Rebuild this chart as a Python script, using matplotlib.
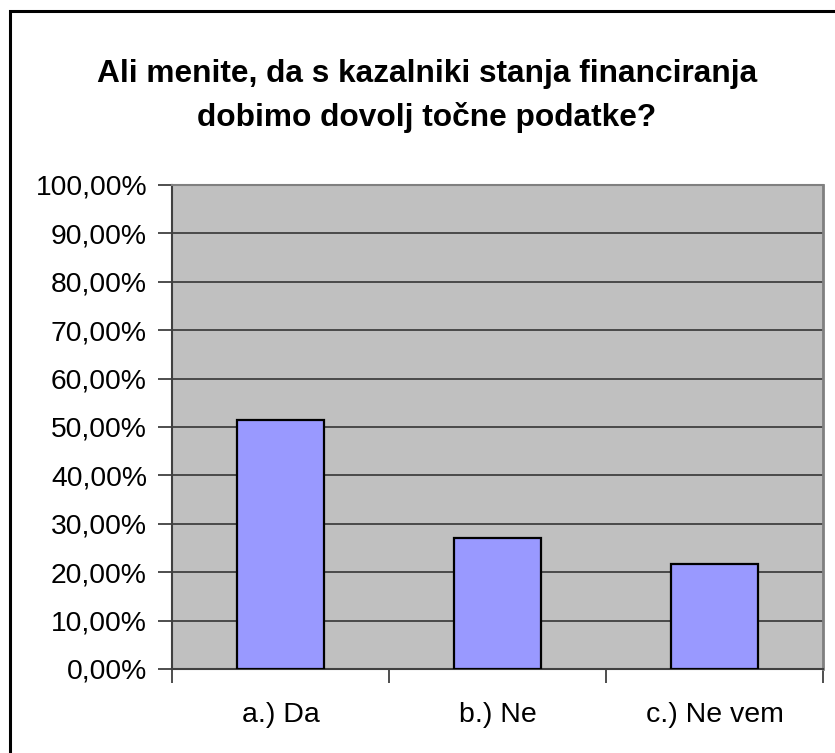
import matplotlib
matplotlib.use("Agg")
import matplotlib.pyplot as plt
from matplotlib.ticker import FuncFormatter, MultipleLocator
from matplotlib.patches import Rectangle

categories = ["a.) Da", "b.) Ne", "c.) Ne vem"]
values = [51.35, 27.03, 21.62]
title = "Ali menite, da s kazalniki stanja financiranja\ndobimo dovolj točne podatke?"

plt.rcParams['font.family'] = ['Liberation Sans', 'DejaVu Sans']

W, H = 835, 753
fig = plt.figure(figsize=(W/100, H/100), dpi=100)
fig.patch.set_facecolor('white')

# outer chart border (cropped on right and bottom)
fig.patches.append(Rectangle((10/W, -0.1), 1.2, (H - 11)/H + 0.1, transform=fig.transFigure,
                             fill=False, edgecolor='black', linewidth=2.2))

left, right, top, bottom = 172, 823, 185, 669
ax = fig.add_axes([left/W, 1 - bottom/H, (right-left)/W, (bottom-top)/H])
ax.set_facecolor('#C0C0C0')

x = list(range(len(categories)))
ax.bar(x, values, width=0.4, color='#9999FF', edgecolor='black', linewidth=1.6, zorder=3)

ax.set_xlim(-0.5, len(categories) - 0.5)
ax.set_ylim(0, 100)
ax.yaxis.set_major_locator(MultipleLocator(10))
ax.yaxis.set_major_formatter(FuncFormatter(lambda v, p: f"{v:.2f}".replace('.', ',') + "%"))
ax.grid(axis='y', color='#404040', linewidth=1.3, zorder=1)
ax.set_axisbelow(True)

ax.set_xticks([i + 0.5 for i in range(-1, len(categories))])
ax.set_xticklabels([])
ax.set_xticks(x, minor=True)
ax.set_xticklabels(categories, minor=True)
ax.tick_params(axis='x', which='minor', length=0, pad=24, labelsize=20.5)
ax.tick_params(axis='x', which='major', length=10, width=1.3, color='#404040', direction='out')
ax.tick_params(axis='y', length=10, width=1.3, color='#404040', direction='out', labelsize=20.3, pad=8)

for s in ['left', 'bottom']:
    ax.spines[s].set_color('#404040')
    ax.spines[s].set_linewidth(1.5)
ax.spines['top'].set_color('#808080')
ax.spines['right'].set_color('#808080')
ax.spines['top'].set_linewidth(1.5)
ax.spines['right'].set_linewidth(2)

fig.text(427 / W, 1 - 96/H, title, ha='center', va='center',
         fontsize=22.8, fontweight='bold', linespacing=1.55)

fig.savefig("out.png", dpi=100)
